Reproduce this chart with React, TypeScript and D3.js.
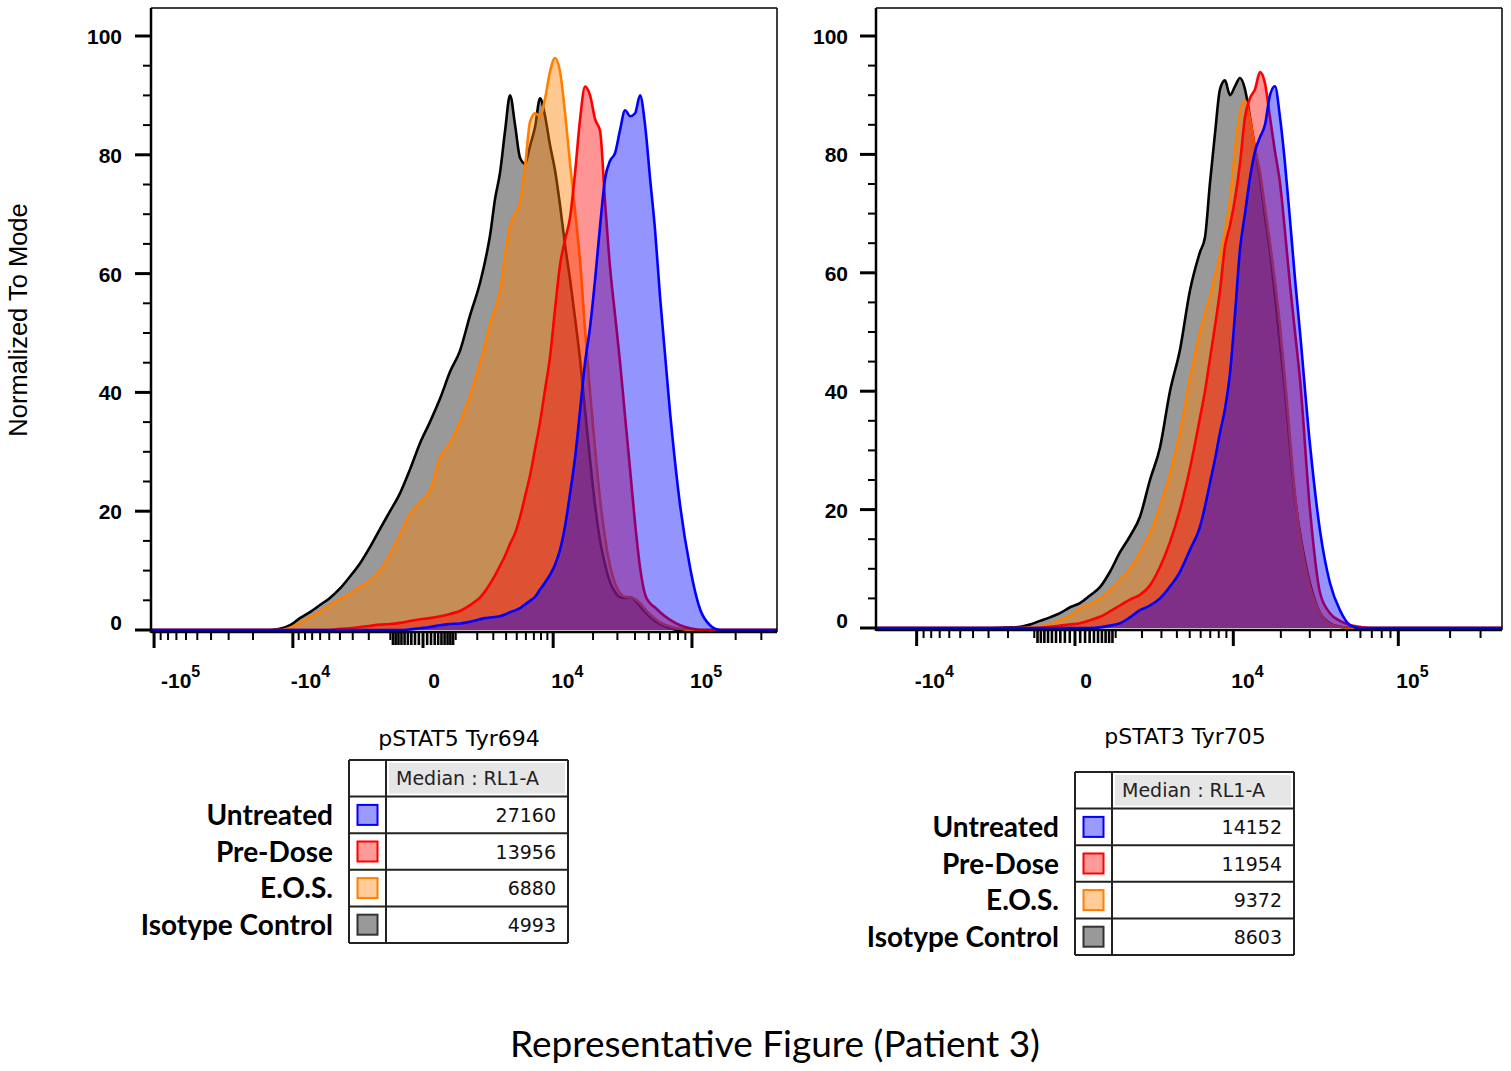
import React from "react";
import * as d3 from "d3";

// ---------- data ----------
const seriesNames = ["Untreated", "Pre-Dose", "E.O.S.", "Isotype Control"];
const strokeColors = ["#0000ff", "#ff0000", "#ff8000", "#000000"];
const fillColors = ["#0000ff", "#ff0000", "#ff8000", "#808080"];
const fillOpacities = [0.42, 0.42, 0.43, 0.8];
const swatchColors = ["#9a9aff", "#ff9a9a", "#ffcc99", "#999999"];

const yTickValues = [0, 20, 40, 60, 80, 100];

// pSTAT5 Tyr694 (fluorescence intensity grid)
const stat5X = [
  -14960, -12580, -10530, -8790, -7290, -6020, -4930, -3990, -3200, -2520, -1930, -1440, -1010, -650, -340, -70,
  170, 460, 790, 1170, 1630, 2160,
  2450, 2780, 3120, 3500, 3910, 4350, 4830, 5340, 5900, 6500, 7160, 7860, 8630, 9450, 10340, 11310, 12360, 13490,
  14710, 16040, 17460, 19010, 20690, 22500, 24460, 26580, 28870, 31350, 34020, 36940, 40060, 43460, 47130, 51110,
  55390, 60050,
  70520, 82750, 97070, 113800, 133400, 156300,
];
const stat5Isotype = [
  0, 0.2, 0.8, 2, 3, 4.2, 5.4, 7, 9, 11.2, 14, 17, 20, 23, 27, 31.5, 35, 39, 43.5, 47, 53, 58.5,
  62, 66.5, 72.5, 77, 84, 90, 85, 79.5, 78.5, 81.5, 84.7, 89.5, 86.5, 81.6, 77.4, 71.5, 64.8, 59, 52.5, 45.5, 37,
  28.6, 21, 15, 11, 8, 6.4, 5.5, 5.4, 5.5, 5, 4, 3, 2.2, 1.5, 1,
  0.3, 0, 0, 0, 0, 0,
];
const stat5EOS = [
  0, 0, 0.4, 1.2, 2.2, 3.1, 4.2, 5.2, 6.1, 7.3, 8.3, 10, 12.7, 16, 19.5, 21.5, 23.4, 29, 31.5, 35, 39.5, 45,
  48, 51.5, 54, 57, 63, 68, 70, 72, 78, 85.5, 87, 86.5, 89.5, 94, 96.3, 94, 87, 78.5, 70.5, 62, 50.5, 40, 30.5, 22,
  15.5, 10.8, 7.8, 6.2, 5.6, 5.5, 5.2, 4.5, 3.5, 2.6, 1.9, 1.3,
  0.6, 0.2, 0, 0, 0, 0,
];
const stat5PreDose = [
  0, 0, 0, 0, 0, 0, 0, 0.2, 0.3, 0.5, 0.7, 0.9, 1, 1.2, 1.5, 1.8, 2, 2.3, 2.7, 3.2, 4.2, 5.5,
  6.5, 7.8, 9.2, 10.8, 12.5, 14.5, 16.3, 19, 22.5, 26, 30.5, 35, 40.5, 46, 54, 61.5, 65.7, 69.5, 77, 86, 91.5, 90,
  86, 84, 72, 61, 53, 45, 36, 27, 18, 10.5, 6, 4.5, 3.8, 3,
  1.7, 0.8, 0.3, 0, 0, 0,
];
const stat5Untreated = [
  0, 0, 0, 0, 0, 0, 0, 0, 0, 0, 0, 0, 0, 0, 0.1, 0.3, 0.5, 0.8, 1, 1.1, 1.4, 1.8,
  2, 2.1, 2.2, 2.3, 2.6, 3, 3.3, 3.7, 4.3, 4.9, 5.6, 6.8, 8, 9.3, 11, 13.5, 17.5, 23, 29, 37, 45, 51, 59, 68, 76,
  79, 80.3, 84.2, 87.5, 86.5, 87, 90, 85, 76, 67.3, 56,
  36.5, 21, 10.5, 3.5, 0.8, 0,
];
const stat5Medians = [27160, 13956, 6880, 4993];

// pSTAT3 Tyr705
const stat3X = [
  -5020, -4225, -3527, -2916, -2380, -1911, -1500, -1141, -826, -549, -308, -95, 95, 308, 549, 826, 1141, 1500,
  1911, 2380, 2916, 3527, 4225, 5020,
  5930, 6433, 6969, 7543, 8155, 8810, 9509, 10256, 11055, 11907, 12818, 13792, 14832, 15943, 17130, 18399, 19755,
  21204, 22751, 24405, 26172,
  30070, 34520, 39620, 45430, 52040, 59640, 68260, 78120, 89400, 102300,
];
const stat3Isotype = [
  0, 0, 0, 0, 0.05, 0.1, 0.2, 0.6, 1.2, 1.8, 2.5, 3.5, 4.2, 5.5, 6.9, 9.5, 12.8, 15.5, 18.8, 25, 30.5, 40, 47, 57,
  63.5, 66, 75.2, 83.5, 91, 92.5, 90, 91.5, 92.9, 91, 86.3, 81, 76, 69.5, 63.5, 56, 48, 40, 30.5, 22, 16,
  7.5, 2.5, 0.8, 0.2, 0, 0, 0, 0, 0, 0,
];
const stat3EOS = [
  0, 0, 0, 0, 0, 0, 0, 0.1, 0.3, 0.6, 1.3, 2, 3.3, 4, 5, 6.4, 8, 10, 12.7, 16, 20.5, 26, 33, 42,
  50, 53, 56, 59.5, 63, 67, 72.3, 80.7, 87, 89, 86, 81, 77, 71, 65, 58.5, 51, 42, 32, 22.5, 15.5,
  7, 2.5, 0.7, 0.2, 0, 0, 0, 0, 0, 0,
];
const stat3PreDose = [
  0, 0, 0, 0, 0, 0, 0, 0, 0.05, 0.2, 0.4, 0.6, 0.8, 1.3, 1.9, 2.8, 3.8, 4.8, 5.6, 7.2, 10.3, 14.5, 20, 27,
  35.5, 40, 45.5, 51, 57, 64.5, 68, 72.5, 78.5, 86.3, 89.5, 91, 93.9, 92, 86.3, 80.5, 75.2, 67, 58, 50, 42,
  20, 6, 2.5, 1.2, 0.5, 0.2, 0, 0, 0, 0,
];
const stat3Untreated = [
  0, 0, 0, 0, 0, 0, 0, 0, 0, 0, 0, 0, 0, 0, 0.1, 0.4, 0.8, 1.8, 3, 3.8, 5, 7, 9.5, 13.2,
  17.1, 20.5, 24.5, 28.5, 33, 37, 43, 53, 63.9, 70, 76, 80.5, 82.9, 85, 90, 91.5, 86.3, 78.5, 69, 59, 50,
  31, 16.5, 7.6, 3, 0.5, 0, 0, 0, 0, 0,
];
const stat3Medians = [14152, 11954, 9372, 8603];

// ---------- layout ----------
const W = 1511;
const H = 1071;

type PanelCfg = {
  title: string;
  xs: number[];
  series: number[][]; // Untreated, Pre-Dose, E.O.S., Isotype
  medians: number[];
  x0: number;
  x1: number;
  yZero: number;
  y100: number;
  yTop: number;
  xDomain: [number, number];
  symConst: number;
  labelRight: number;
  titleX: number;
  titleY: number;
  tableX: number;
  tableY: number;
  labelTicks: number[];
};

const panels: PanelCfg[] = [
  {
    title: "pSTAT5 Tyr694",
    xs: stat5X,
    series: [stat5Untreated, stat5PreDose, stat5EOS, stat5Isotype],
    medians: stat5Medians,
    x0: 151,
    x1: 777,
    yZero: 630,
    y100: 36,
    yTop: 8,
    xDomain: [-105000, 384000],
    symConst: 1490,
    labelRight: 122,
    titleX: 459,
    titleY: 746,
    tableX: 349,
    tableY: 760,
    labelTicks: [-100000, -10000, 0, 10000, 100000],
  },
  {
    title: "pSTAT3 Tyr705",
    xs: stat3X,
    series: [stat3Untreated, stat3PreDose, stat3EOS, stat3Isotype],
    medians: stat3Medians,
    x0: 876,
    x1: 1502,
    yZero: 628,
    y100: 36,
    yTop: 8,
    xDomain: [-18130, 399000],
    symConst: 1400,
    labelRight: 848,
    titleX: 1185,
    titleY: 744,
    tableX: 1075,
    tableY: 772,
    labelTicks: [-10000, 0, 10000, 100000],
  },
];

function buildXTicks(domain: [number, number]) {
  const out: number[] = [0];
  for (let n = 2; n <= 5; n++) {
    for (let k = 1; k <= 9; k++) {
      const v = k * Math.pow(10, n);
      if (v <= domain[1]) out.push(v);
      if (-v >= domain[0]) out.push(-v);
    }
  }
  return out;
}

function Panel({ cfg, idx }: { cfg: PanelCfg; idx: number }) {
  const x = d3.scaleSymlog().constant(cfg.symConst).domain(cfg.xDomain).range([cfg.x0, cfg.x1]);
  const y = d3.scaleLinear().domain([0, 100]).range([cfg.yZero, cfg.y100]);
  const axisY = cfg.yZero + 2;
  const clipId = `clip-${idx}`;

  const area = d3
    .area<[number, number]>()
    .x((d) => x(d[0]))
    .y0(y(0))
    .y1((d) => y(d[1]))
    .curve(d3.curveMonotoneX);
  const line = d3
    .line<[number, number]>()
    .x((d) => x(d[0]))
    .y((d) => y(d[1]))
    .curve(d3.curveMonotoneX);

  const order = [3, 2, 1, 0]; // draw isotype first, untreated on top
  const yMinor = d3.range(0, 101, 5);
  const xTicks = buildXTicks(cfg.xDomain);

  return (
    <g>
      <defs>
        <clipPath id={clipId}>
          <rect x={cfg.x0} y={cfg.yTop} width={cfg.x1 - cfg.x0} height={axisY - cfg.yTop} />
        </clipPath>
      </defs>
      <g clipPath={`url(#${clipId})`}>
        {order.map((si) => {
          const pts: [number, number][] = [
            [cfg.xDomain[0], 0],
            ...cfg.xs.map((xv, i) => [xv, cfg.series[si][i]] as [number, number]),
            [cfg.xDomain[1], 0],
          ];
          return (
            <g key={si}>
              <path d={area(pts) || ""} fill={fillColors[si]} fillOpacity={fillOpacities[si]} />
              <path
                d={line(pts) || ""}
                fill="none"
                stroke={strokeColors[si]}
                strokeWidth={2.6}
                strokeLinejoin="round"
              />
            </g>
          );
        })}
      </g>
      {/* frame */}
      <line x1={cfg.x0} x2={cfg.x1} y1={cfg.yTop} y2={cfg.yTop} stroke="#000" strokeWidth={1.5} />
      <line x1={cfg.x1} x2={cfg.x1} y1={cfg.yTop} y2={axisY} stroke="#000" strokeWidth={1.5} />
      <line x1={cfg.x0} x2={cfg.x0} y1={cfg.yTop} y2={axisY + 1} stroke="#000" strokeWidth={2.5} />
      <line x1={cfg.x0} x2={cfg.x1} y1={axisY} y2={axisY} stroke="#000" strokeWidth={2.5} />
      {/* y ticks */}
      {yMinor.map((v) => {
        const major = v % 20 === 0;
        return (
          <line
            key={v}
            x1={cfg.x0 - (major ? 16 : 8)}
            x2={cfg.x0}
            y1={y(v)}
            y2={y(v)}
            stroke="#000"
            strokeWidth={major ? 3 : 2}
          />
        );
      })}
      {yTickValues.map((v) => (
        <text
          key={v}
          x={cfg.labelRight}
          y={y(v) + (v === 0 ? 0 : 8)}
          textAnchor="end"
          fontFamily="Liberation Sans, Arial, sans-serif"
          fontWeight="bold"
          fontSize={21}
        >
          {v}
        </text>
      ))}
      {/* x ticks */}
      {xTicks.map((v) => {
        const major = cfg.labelTicks.includes(v);
        const near = Math.abs(v) < 1000;
        const len = major ? 16 : near ? 13 : 8;
        return (
          <line
            key={v}
            x1={x(v)}
            x2={x(v)}
            y1={axisY}
            y2={axisY + len}
            stroke="#000"
            strokeWidth={major ? 3 : near ? 2.6 : 2}
          />
        );
      })}
      {cfg.labelTicks.map((v) => {
        const px = x(v);
        if (v === 0) {
          return (
            <text
              key={v}
              x={px + 11}
              y={688}
              textAnchor="middle"
              fontFamily="Liberation Sans, Arial, sans-serif"
              fontWeight="bold"
              fontSize={21}
            >
              0
            </text>
          );
        }
        const exp = Math.round(Math.log10(Math.abs(v)));
        const lx = Math.max(px - 2, cfg.x0 + 10);
        return (
          <text
            key={v}
            x={lx}
            y={688}
            textAnchor="start"
            fontFamily="Liberation Sans, Arial, sans-serif"
            fontWeight="bold"
            fontSize={21}
          >
            {v < 0 ? "-10" : "10"}
            <tspan dy={-11} fontSize={16}>
              {exp}
            </tspan>
          </text>
        );
      })}
      {/* title */}
      <text
        x={cfg.titleX}
        y={cfg.titleY}
        textAnchor="middle"
        fontFamily="DejaVu Sans, sans-serif"
        fontSize={22}
      >
        {cfg.title}
      </text>
      <StatTable cfg={cfg} />
    </g>
  );
}

function StatTable({ cfg }: { cfg: PanelCfg }) {
  const c1 = 37;
  const c2 = 182;
  const rh = 36.6;
  const tx = cfg.tableX;
  const ty = cfg.tableY;
  const rows = d3.range(5);
  return (
    <g>
      <rect x={tx + c1 + 3} y={ty + 3} width={c2 - 6} height={rh - 6} fill="#e6e6e6" />
      <text
        x={tx + c1 + 10}
        y={ty + rh / 2 + 7}
        fontFamily="DejaVu Sans, sans-serif"
        fontSize={19}
        fill="#222"
      >
        Median : RL1-A
      </text>
      {seriesNames.map((name, i) => {
        const cy = ty + rh * (i + 1) + rh / 2;
        return (
          <g key={name}>
            <text
              x={tx - 16}
              y={cy + 10}
              textAnchor="end"
              fontFamily="Lato, sans-serif"
              fontWeight="bold"
              fontSize={28}
            >
              {name}
            </text>
            <rect
              x={tx + c1 / 2 - 10}
              y={cy - 10}
              width={20}
              height={20}
              fill={swatchColors[i]}
              stroke={strokeColors[i] === "#000000" ? "#333" : strokeColors[i]}
              strokeWidth={2}
            />
            <text
              x={tx + c1 + c2 - 12}
              y={cy + 7}
              textAnchor="end"
              fontFamily="DejaVu Sans, sans-serif"
              fontSize={19}
              fill="#111"
            >
              {cfg.medians[i]}
            </text>
          </g>
        );
      })}
      {rows.map((r) => (
        <line key={r} x1={tx} x2={tx + c1 + c2} y1={ty + rh * r} y2={ty + rh * r} stroke="#222" strokeWidth={2} />
      ))}
      <line x1={tx} x2={tx + c1 + c2} y1={ty + rh * 5} y2={ty + rh * 5} stroke="#222" strokeWidth={2} />
      <line x1={tx} x2={tx} y1={ty} y2={ty + rh * 5} stroke="#222" strokeWidth={2} />
      <line x1={tx + c1} x2={tx + c1} y1={ty} y2={ty + rh * 5} stroke="#222" strokeWidth={2} />
      <line x1={tx + c1 + c2} x2={tx + c1 + c2} y1={ty} y2={ty + rh * 5} stroke="#222" strokeWidth={2} />
    </g>
  );
}

export default function App() {
  return (
    <svg
      width={W}
      height={H}
      viewBox={`0 0 ${W} ${H}`}
      style={{ position: "absolute", left: 0, top: 0, background: "#fff" }}
    >
      <rect x={0} y={0} width={W} height={H} fill="#fff" />
      {panels.map((p, i) => (
        <Panel key={i} cfg={p} idx={i} />
      ))}
      <text
        transform="translate(27,320) rotate(-90)"
        textAnchor="middle"
        fontFamily="Liberation Sans, Arial, sans-serif"
        fontSize={25.5}
      >
        Normalized To Mode
      </text>
      <text x={775} y={1057} textAnchor="middle" fontFamily="Lato, sans-serif" fontSize={37}>
        Representative Figure (Patient 3)
      </text>
    </svg>
  );
}
